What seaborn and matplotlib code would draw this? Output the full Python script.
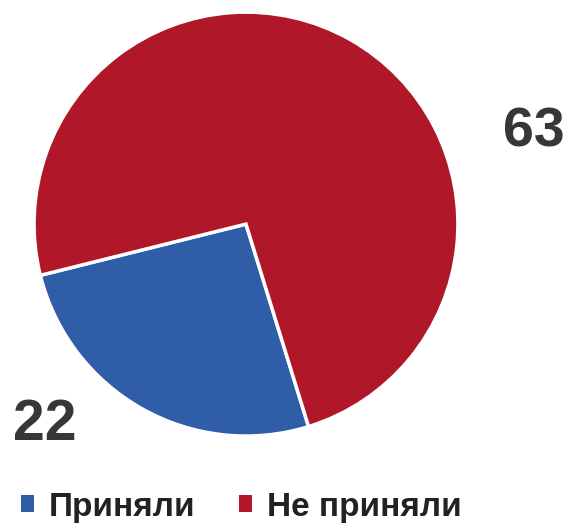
import matplotlib.pyplot as plt
from matplotlib.patches import Patch
import seaborn as sns

labels = ["Приняли", "Не приняли"]
values = [22, 63]
colors = ["#2F5DA8", "#B0182A"]

sns.set_theme(style="white")
plt.rcParams["font.family"] = ["Liberation Sans", "DejaVu Sans"]

fig = plt.figure(figsize=(5.69, 5.26), dpi=100)
ax = fig.add_axes([0.0598, 0.171, 0.745, 0.806])

ax.pie(values, colors=colors, startangle=194, counterclock=True,
       wedgeprops=dict(edgecolor="white", linewidth=2.5))
ax.set_xlim(-1, 1)
ax.set_ylim(-1, 1)

# value labels
ax.text(1.36, 0.43, str(values[1]), fontsize=40, fontweight="bold",
        color="#353838", ha="center", va="center", clip_on=False)
ax.text(-0.95, -0.95, str(values[0]), fontsize=41, fontweight="bold",
        color="#353838", ha="center", va="center", clip_on=False)

handles = [Patch(facecolor=c, edgecolor="none") for c in colors]
leg = fig.legend(handles, labels, loc="center", bbox_to_anchor=(0.424, 0.036),
                 ncol=2, frameon=False, handlelength=0.4,
                 handleheight=0.4, handletextpad=0.45, columnspacing=1.3,
                 prop=dict(weight="bold", size=24))
for t in leg.get_texts():
    t.set_color("#222222")

fig.savefig("out.png", dpi=100)
